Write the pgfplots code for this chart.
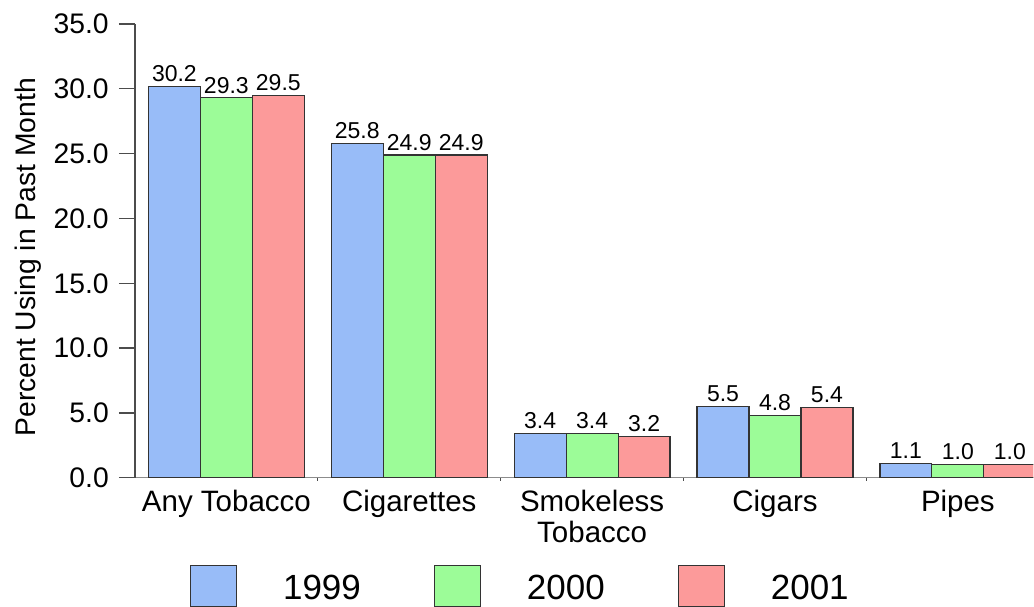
\documentclass[border=0pt]{standalone}
\usepackage{fontspec}
\setmainfont{Liberation Sans}
\usepackage{pgfplots}
\pgfplotsset{compat=1.18}
\definecolor{cA}{HTML}{98BCF8}
\definecolor{cB}{HTML}{9CFC98}
\definecolor{cC}{HTML}{FC9A9A}
\definecolor{edge}{HTML}{333333}
\pgfplotsset{sqlegend/.style={legend image code/.code={%
  \fill[##1] (0pt,-18pt) rectangle (46pt,23pt);
  \draw[##1, fill=none, line width=1.2pt] (0pt,-18pt) -- (0pt,23pt) -- (46pt,23pt) -- (46pt,-18pt);}}}
\begin{document}
\begin{tikzpicture}
\begin{axis}[
  at={(0,0)}, anchor=south west,
  scale only axis, width=899pt, height=454pt,
  xmin=-0.5, xmax=4.413, ymin=0, ymax=35,
  ybar=0pt, bar width=52pt,
  axis x line=bottom, axis y line=left,
  x axis line style={-, draw=black!45, line width=1.2pt},
  y axis line style={-, draw=black!70, line width=1.2pt},
  xtick={0,1,2,3,4},
  xticklabels={Any Tobacco, Cigarettes, {Smokeless\\Tobacco}, Cigars, Pipes},
  major x tick style={draw=none},
  minor xtick={0.5,1.5,2.5,3.5},
  minor x tick style={draw=black!70, line width=1pt},
  minor tick length=3pt,
  ytick={0,5,...,35},
  tick align=outside,
  major tick length=16pt,
  major y tick style={draw=black!70, line width=1.2pt},
  /pgf/number format/.cd, fixed, fixed zerofill, precision=1, assume math mode=true, /pgfplots/.cd,
  yticklabel style={font=\fontsize{28.3}{28}\selectfont, anchor=east, inner sep=0pt, xshift=-10pt},
  xticklabel style={font=\fontsize{29.5}{31}\selectfont, align=center, anchor=north, inner sep=0pt, yshift=4pt},
  every axis y label/.style={at={(axis description cs:-0.1112,0.4857)}, anchor=base, rotate=90, font=\fontsize{28.3}{29}\selectfont},
  ylabel={Percent Using in Past Month},
  nodes near coords,
  every node near coord/.append style={font=\fontsize{23}{23}\selectfont, inner sep=4pt, black},
  legend columns=3,
  legend style={draw=none, fill=none, at={(axis description cs:0.0612,-0.1916)}, anchor=north west, inner sep=0pt, outer sep=0pt, font=\fontsize{35}{35}\selectfont, nodes={inner sep=0pt}, /tikz/every odd column/.style={column sep=46pt}, /tikz/every even column/.style={column sep=73pt}},
]
\addplot[fill=cA, draw=edge, line width=1.2pt, sqlegend] coordinates {(0,30.2) (1,25.8) (2,3.4) (3,5.5) (4,1.1)};
\addplot[fill=cB, draw=edge, line width=1.2pt, sqlegend] coordinates {(0,29.3) (1,24.9) (2,3.4) (3,4.8) (4,1.0)};
\addplot[fill=cC, draw=edge, line width=1.2pt, sqlegend] coordinates {(0,29.5) (1,24.9) (2,3.2) (3,5.4) (4,1.0)};
\legend{1999,2000,2001}
\end{axis}
\path (-135pt,-128pt) rectangle (899pt,478pt);
\end{tikzpicture}
\end{document}
